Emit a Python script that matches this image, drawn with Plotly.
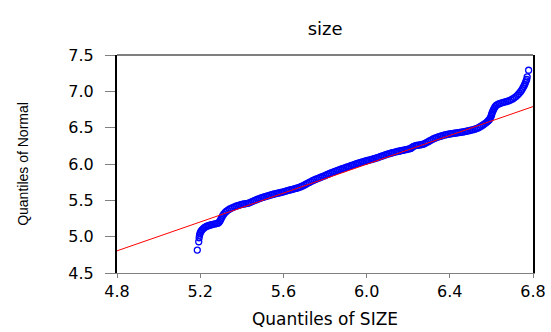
import plotly.graph_objects as go

# Q-Q plot data (x: quantiles of SIZE, y: quantiles of Normal)
size_quantiles = [
    5.186, 5.193, 5.195, 5.197, 5.199, 5.202, 5.206, 5.210, 5.215, 5.220,
    5.226, 5.232, 5.239, 5.246, 5.254, 5.262, 5.270, 5.278, 5.285, 5.291,
    5.296, 5.300, 5.304, 5.308, 5.313, 5.319, 5.325, 5.332, 5.340, 5.348,
    5.356, 5.364, 5.372, 5.380, 5.388, 5.396, 5.404, 5.412, 5.420, 5.428,
    5.436, 5.444, 5.452, 5.460, 5.468, 5.476, 5.484, 5.492, 5.500, 5.508,
    5.516, 5.524, 5.532, 5.540, 5.548, 5.556, 5.564, 5.572, 5.580, 5.588,
    5.596, 5.604, 5.612, 5.620, 5.628, 5.636, 5.644, 5.652, 5.660, 5.668,
    5.676, 5.684, 5.692, 5.700, 5.708, 5.716, 5.724, 5.732, 5.740, 5.748,
    5.756, 5.764, 5.772, 5.780, 5.788, 5.796, 5.804, 5.812, 5.820, 5.828,
    5.836, 5.844, 5.852, 5.860, 5.868, 5.876, 5.884, 5.892, 5.900, 5.908,
    5.916, 5.924, 5.932, 5.940, 5.948, 5.956, 5.964, 5.972, 5.980, 5.988,
    5.996, 6.004, 6.012, 6.020, 6.028, 6.036, 6.044, 6.052, 6.060, 6.068,
    6.076, 6.084, 6.092, 6.100, 6.108, 6.116, 6.124, 6.132, 6.140, 6.148,
    6.156, 6.164, 6.172, 6.180, 6.188, 6.196, 6.204, 6.212, 6.218, 6.224,
    6.232, 6.240, 6.248, 6.256, 6.264, 6.272, 6.280, 6.288, 6.296, 6.304,
    6.312, 6.320, 6.328, 6.336, 6.344, 6.352, 6.360, 6.368, 6.376, 6.384,
    6.392, 6.400, 6.408, 6.416, 6.424, 6.432, 6.440, 6.448, 6.456, 6.464,
    6.472, 6.480, 6.488, 6.496, 6.504, 6.512, 6.520, 6.528, 6.536, 6.544,
    6.552, 6.560, 6.567, 6.574, 6.580, 6.585, 6.590, 6.594, 6.597, 6.600,
    6.602, 6.604, 6.607, 6.610, 6.614, 6.618, 6.623, 6.630, 6.638, 6.646,
    6.654, 6.662, 6.670, 6.678, 6.686, 6.694, 6.702, 6.710, 6.718, 6.726,
    6.733, 6.740, 6.746, 6.751, 6.756, 6.760, 6.764, 6.767, 6.770, 6.772,
    6.779,
]
normal_quantiles = [
    4.815, 4.930, 4.985, 5.020, 5.045, 5.065, 5.083, 5.098, 5.112, 5.124,
    5.135, 5.144, 5.151, 5.158, 5.164, 5.170, 5.175, 5.180, 5.186, 5.200,
    5.220, 5.243, 5.266, 5.289, 5.310, 5.330, 5.347, 5.362, 5.377, 5.390,
    5.401, 5.411, 5.420, 5.428, 5.435, 5.441, 5.446, 5.451, 5.455, 5.459,
    5.466, 5.476, 5.486, 5.496, 5.506, 5.515, 5.524, 5.532, 5.540, 5.547,
    5.554, 5.561, 5.568, 5.575, 5.581, 5.587, 5.593, 5.598, 5.603, 5.608,
    5.614, 5.621, 5.628, 5.634, 5.640, 5.646, 5.652, 5.658, 5.664, 5.671,
    5.679, 5.687, 5.697, 5.709, 5.722, 5.734, 5.746, 5.758, 5.770, 5.781,
    5.791, 5.800, 5.809, 5.818, 5.827, 5.836, 5.846, 5.856, 5.866, 5.876,
    5.885, 5.894, 5.903, 5.912, 5.920, 5.928, 5.936, 5.944, 5.952, 5.960,
    5.968, 5.976, 5.984, 5.992, 6.000, 6.008, 6.016, 6.023, 6.030, 6.036,
    6.042, 6.048, 6.054, 6.060, 6.066, 6.073, 6.080, 6.087, 6.095, 6.103,
    6.111, 6.119, 6.127, 6.135, 6.142, 6.149, 6.155, 6.161, 6.167, 6.172,
    6.177, 6.182, 6.187, 6.192, 6.197, 6.202, 6.207, 6.215, 6.228, 6.240,
    6.250, 6.255, 6.259, 6.263, 6.267, 6.272, 6.282, 6.295, 6.307, 6.320,
    6.333, 6.345, 6.355, 6.364, 6.372, 6.380, 6.387, 6.394, 6.400, 6.405,
    6.410, 6.414, 6.418, 6.421, 6.424, 6.428, 6.431, 6.435, 6.438, 6.442,
    6.446, 6.451, 6.456, 6.461, 6.467, 6.473, 6.479, 6.487, 6.497, 6.509,
    6.523, 6.538, 6.553, 6.566, 6.580, 6.595, 6.610, 6.628, 6.648, 6.668,
    6.688, 6.708, 6.728, 6.748, 6.768, 6.788, 6.806, 6.820, 6.830, 6.838,
    6.845, 6.852, 6.858, 6.865, 6.873, 6.883, 6.895, 6.910, 6.928, 6.948,
    6.970, 6.995, 7.020, 7.045, 7.070, 7.095, 7.120, 7.145, 7.165, 7.200,
    7.290,
]

# Reference (fitted) line endpoints
line_x = [4.8, 6.8]
line_y = [4.805, 6.79]

x_ticks = [4.8, 5.2, 5.6, 6.0, 6.4, 6.8]
y_ticks = [4.5, 5.0, 5.5, 6.0, 6.5, 7.0, 7.5]

fig = go.Figure()
fig.add_trace(go.Scatter(
    x=size_quantiles, y=normal_quantiles, mode="markers",
    marker=dict(symbol="circle-open", size=6, color="#0000ff",
                line=dict(width=1.3, color="#0000ff")),
    showlegend=False, hoverinfo="skip",
))
fig.add_trace(go.Scatter(
    x=line_x, y=line_y, mode="lines",
    line=dict(color="#ff0000", width=1),
    showlegend=False, hoverinfo="skip",
))

fig.update_layout(
    width=551, height=332,
    margin=dict(l=117, r=18, t=55, b=59, autoexpand=False),
    paper_bgcolor="white", plot_bgcolor="white",
    font=dict(family="DejaVu Sans", color="black"),
    title=dict(text="size", x=0.59, xanchor="center", y=0.915, yanchor="middle",
               font=dict(size=18, family="DejaVu Sans", color="black")),
    xaxis=dict(
        range=[4.8, 6.8], tickvals=x_ticks, ticktext=[f"{v:.1f}" for v in x_ticks],
        showgrid=False, zeroline=False, automargin=False,
        showline=True, linecolor="#808080", linewidth=1,
        ticks="outside", ticklen=4, tickcolor="#808080", tickwidth=1,
        ticklabelstandoff=0,
        tickfont=dict(size=16, family="DejaVu Sans"),
        title=dict(text="Quantiles of SIZE", standoff=12,
                   font=dict(size=17, family="DejaVu Sans")),
    ),
    yaxis=dict(
        range=[4.5, 7.5], tickvals=y_ticks, ticktext=[f"{v:.1f}" for v in y_ticks],
        showgrid=False, zeroline=False, automargin=False,
        showline=True, linecolor="black", linewidth=2, mirror=True,
        ticks="outside", ticklen=10, tickcolor="#808080", tickwidth=1,
        ticklabelstandoff=8,
        tickfont=dict(size=16, family="DejaVu Sans"),
        title=dict(text="Quantiles of Normal", standoff=36,
                   font=dict(size=14, family="Liberation Sans")),
    ),
    shapes=[dict(type="line", xref="paper", yref="paper", x0=0, x1=1, y0=1, y1=1,
                 line=dict(color="black", width=1))],
)

fig.write_html("out.html")
